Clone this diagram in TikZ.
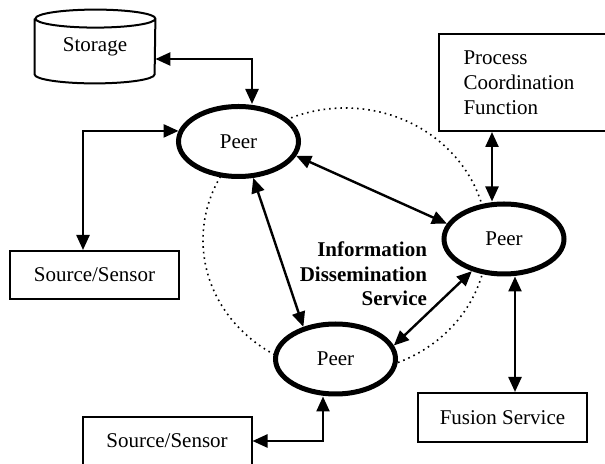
\documentclass[tikz,border=0pt]{standalone}
\usepackage{fontspec}
\setmainfont{Liberation Serif}
\usepackage{tikz}
\usetikzlibrary{positioning,calc,arrows.meta,shapes.geometric}

\tikzset{
  peer/.style={ellipse, draw, line width=2.5pt, fill=white, minimum width=60pt, minimum height=35pt},
  box/.style={rectangle, draw, line width=1pt, minimum width=84.5pt, minimum height=24pt},
  biarrow/.style={{Triangle[length=7.5pt,width=6.5pt]}-{Triangle[length=7.5pt,width=6.5pt]}, line width=1.2pt}
}

\begin{document}
\begin{tikzpicture}[x=0.5pt, y=-0.5pt, font=\fontsize{10.5}{12.5}\selectfont]
\useasboundingbox (0,0) rectangle (605,464);
% dotted ring of the dissemination service
\node(ring) [ellipse, draw, dotted, line width=0.8pt, minimum width=142pt, minimum height=132pt] at (345,240) {};
\node(ids)  [font=\fontsize{10.5}{12.25}\selectfont\bfseries, align=right, anchor=east] at (434,274) {Information\\Dissemination\\Service};
% peers
\node(peerA) [peer] at (238.5,141.5) {Peer};
\node(peerB) [peer] at (504,239)     {Peer};
\node(peerC) [peer] at (335.5,359)   {Peer};
% services round the peers
\node(storage) [minimum width=60pt, minimum height=27.5pt, inner sep=0pt] at (95,46.5) {Storage};
\draw[line width=1pt] (storage.north west) -- (storage.south west)
  arc[start angle=180, end angle=360, x radius=30pt, y radius=4.5pt] -- (storage.north east)
  arc[start angle=0, end angle=360, x radius=30pt, y radius=4.5pt];
\node(srcA)   [box] at (94.5,275)  {Source/Sensor};
\node(srcB)   [box] at (167,441)   {Source/Sensor};
\node(fusion) [box, minimum height=24.5pt] at (502.5,417.5) {Fusion Service};
\node(pcf)    [box, text width=60pt, inner xsep=10pt, align=left, minimum height=48.5pt] at (523.5,82.5) {Process\\Coordination\\Function};
\coordinate(pBtop) at ([xshift=-6pt]peerB.north);
\coordinate(pBbot) at ([xshift=5.5pt]peerB.south);
% links
\draw[biarrow] ([yshift=-6.25pt]storage.east) -| ([xshift=6.75pt]peerA.north);
\draw[biarrow] (peerA.170) -| ([xshift=-5.75pt]srcA.north);
\draw[biarrow] (peerA.346) -- (peerB.165);
\draw[biarrow] (peerA.292) -- (peerC.135);
\draw[biarrow] (peerC.13) -- (peerB.225);
\draw[biarrow] (pBtop) -- (pBtop |- pcf.south);
\draw[biarrow] (pBbot) -- (pBbot |- fusion.north);
\draw[biarrow] (srcB.east) -| ([xshift=-6.25pt]peerC.south);
\end{tikzpicture}
\end{document}
